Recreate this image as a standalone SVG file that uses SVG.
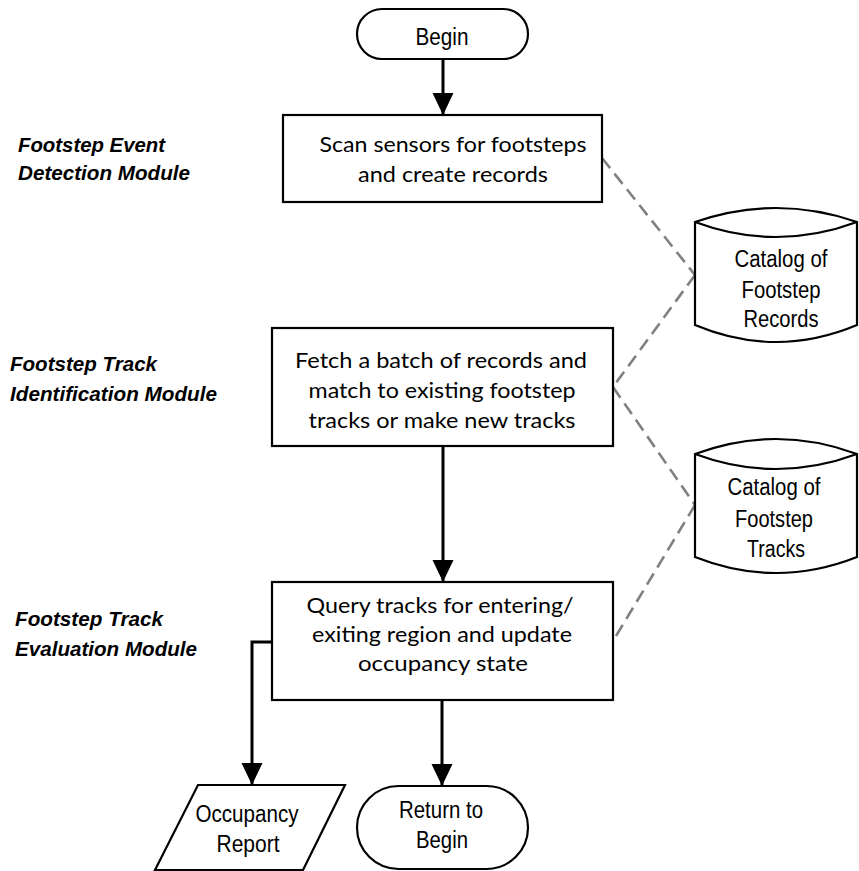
<svg xmlns="http://www.w3.org/2000/svg" width="859" height="871" viewBox="0 0 859 871">
<style>
.shape{fill:#fff;stroke:#000;stroke-width:2.2}
.box{font-family:Lato,Carlito,"Liberation Sans",sans-serif;font-size:21px;fill:#000;text-anchor:middle}
.nar{font-family:"Liberation Sans Narrow","Liberation Sans",Arial,sans-serif;font-size:23px;fill:#000;text-anchor:middle}
.lbl{font-family:"Liberation Sans",Arial,sans-serif;font-size:20px;font-weight:bold;font-style:italic;fill:#000}
.flow{fill:none;stroke:#000;stroke-width:3}
.dash{fill:none;stroke:#808080;stroke-width:2.6;stroke-dasharray:13 7}
</style>
<defs>
<marker id="ah" markerUnits="userSpaceOnUse" markerWidth="23" markerHeight="22" refX="22" refY="10.5" orient="auto" viewBox="0 0 23 22">
<path d="M0,0 L22,10.5 L0,21 Z" fill="#000"/>
</marker>
</defs>
<g id="labels">
<text class="lbl" x="18" y="152" textLength="147" lengthAdjust="spacingAndGlyphs">Footstep Event</text>
<text class="lbl" x="18" y="180" textLength="172" lengthAdjust="spacingAndGlyphs">Detection Module</text>
<text class="lbl" x="10" y="371" textLength="147" lengthAdjust="spacingAndGlyphs">Footstep Track</text>
<text class="lbl" x="10" y="401" textLength="207" lengthAdjust="spacingAndGlyphs">Identification Module</text>
<text class="lbl" x="15" y="626" textLength="148" lengthAdjust="spacingAndGlyphs">Footstep Track</text>
<text class="lbl" x="15" y="656" textLength="182" lengthAdjust="spacingAndGlyphs">Evaluation Module</text>
</g>
<g id="connectors">
<line class="dash" x1="602" y1="158" x2="695" y2="275"/>
<line class="dash" x1="695" y1="275" x2="613" y2="387"/>
<line class="dash" x1="613" y1="387" x2="695" y2="505"/>
<line class="dash" x1="695" y1="505" x2="613" y2="641"/>
<line class="flow" x1="443" y1="59" x2="443" y2="115" marker-end="url(#ah)"/>
<line class="flow" x1="443" y1="446" x2="443" y2="582" marker-end="url(#ah)"/>
<line class="flow" x1="442" y1="700" x2="442" y2="786" marker-end="url(#ah)"/>
<polyline class="flow" points="272,642 252,642 252,785" marker-end="url(#ah)"/>
</g>
<g id="begin">
<rect class="shape" x="357" y="9" width="171" height="50" rx="25" ry="25"/>
<text class="nar" x="442" y="45" textLength="53" lengthAdjust="spacingAndGlyphs">Begin</text>
</g>
<g id="scan">
<rect class="shape" x="283" y="115" width="319" height="87"/>
<text class="box" x="453" y="152" textLength="267" lengthAdjust="spacingAndGlyphs">Scan sensors for footsteps</text>
<text class="box" x="453" y="182" textLength="190" lengthAdjust="spacingAndGlyphs">and create records</text>
</g>
<g id="records">
<path class="shape" d="M695,222 Q776,194 857,222 L857,325 Q776,359 695,325 Z"/>
<path class="shape" d="M695,222 Q776,252 857,222" fill="none"/>
<text class="nar" x="781" y="267" textLength="93" lengthAdjust="spacingAndGlyphs">Catalog of</text>
<text class="nar" x="781" y="298" textLength="79" lengthAdjust="spacingAndGlyphs">Footstep</text>
<text class="nar" x="781" y="327" textLength="75" lengthAdjust="spacingAndGlyphs">Records</text>
</g>
<g id="fetch">
<rect class="shape" x="272" y="328" width="341" height="118"/>
<text class="box" x="441" y="368" textLength="292" lengthAdjust="spacingAndGlyphs">Fetch a batch of records and</text>
<text class="box" x="442" y="398" textLength="267" lengthAdjust="spacingAndGlyphs">match to existing footstep</text>
<text class="box" x="442" y="428" textLength="267" lengthAdjust="spacingAndGlyphs">tracks or make new tracks</text>
</g>
<g id="tracks">
<path class="shape" d="M695,454 Q776,424 857,454 L857,557 Q776,589 695,557 Z"/>
<path class="shape" d="M695,454 Q776,484 857,454" fill="none"/>
<text class="nar" x="774" y="495" textLength="93" lengthAdjust="spacingAndGlyphs">Catalog of</text>
<text class="nar" x="774" y="527" textLength="78" lengthAdjust="spacingAndGlyphs">Footstep</text>
<text class="nar" x="776" y="557" textLength="58" lengthAdjust="spacingAndGlyphs">Tracks</text>
</g>
<g id="query">
<rect class="shape" x="272" y="582" width="341" height="118"/>
<text class="box" x="440" y="613" textLength="267" lengthAdjust="spacingAndGlyphs">Query tracks for entering/</text>
<text class="box" x="442" y="642" textLength="260" lengthAdjust="spacingAndGlyphs">exiting region and update</text>
<text class="box" x="443" y="671" textLength="170" lengthAdjust="spacingAndGlyphs">occupancy state</text>
</g>
<g id="report">
<polygon class="shape" points="198,785 345,785 303,870 155,870"/>
<text class="nar" x="247" y="822" textLength="103" lengthAdjust="spacingAndGlyphs">Occupancy</text>
<text class="nar" x="248" y="852" textLength="63" lengthAdjust="spacingAndGlyphs">Report</text>
</g>
<g id="return">
<rect class="shape" x="357" y="786" width="171" height="83" rx="41.5" ry="41.5"/>
<text class="nar" x="441" y="818" textLength="84" lengthAdjust="spacingAndGlyphs">Return to</text>
<text class="nar" x="442" y="848" textLength="52" lengthAdjust="spacingAndGlyphs">Begin</text>
</g>
</svg>
